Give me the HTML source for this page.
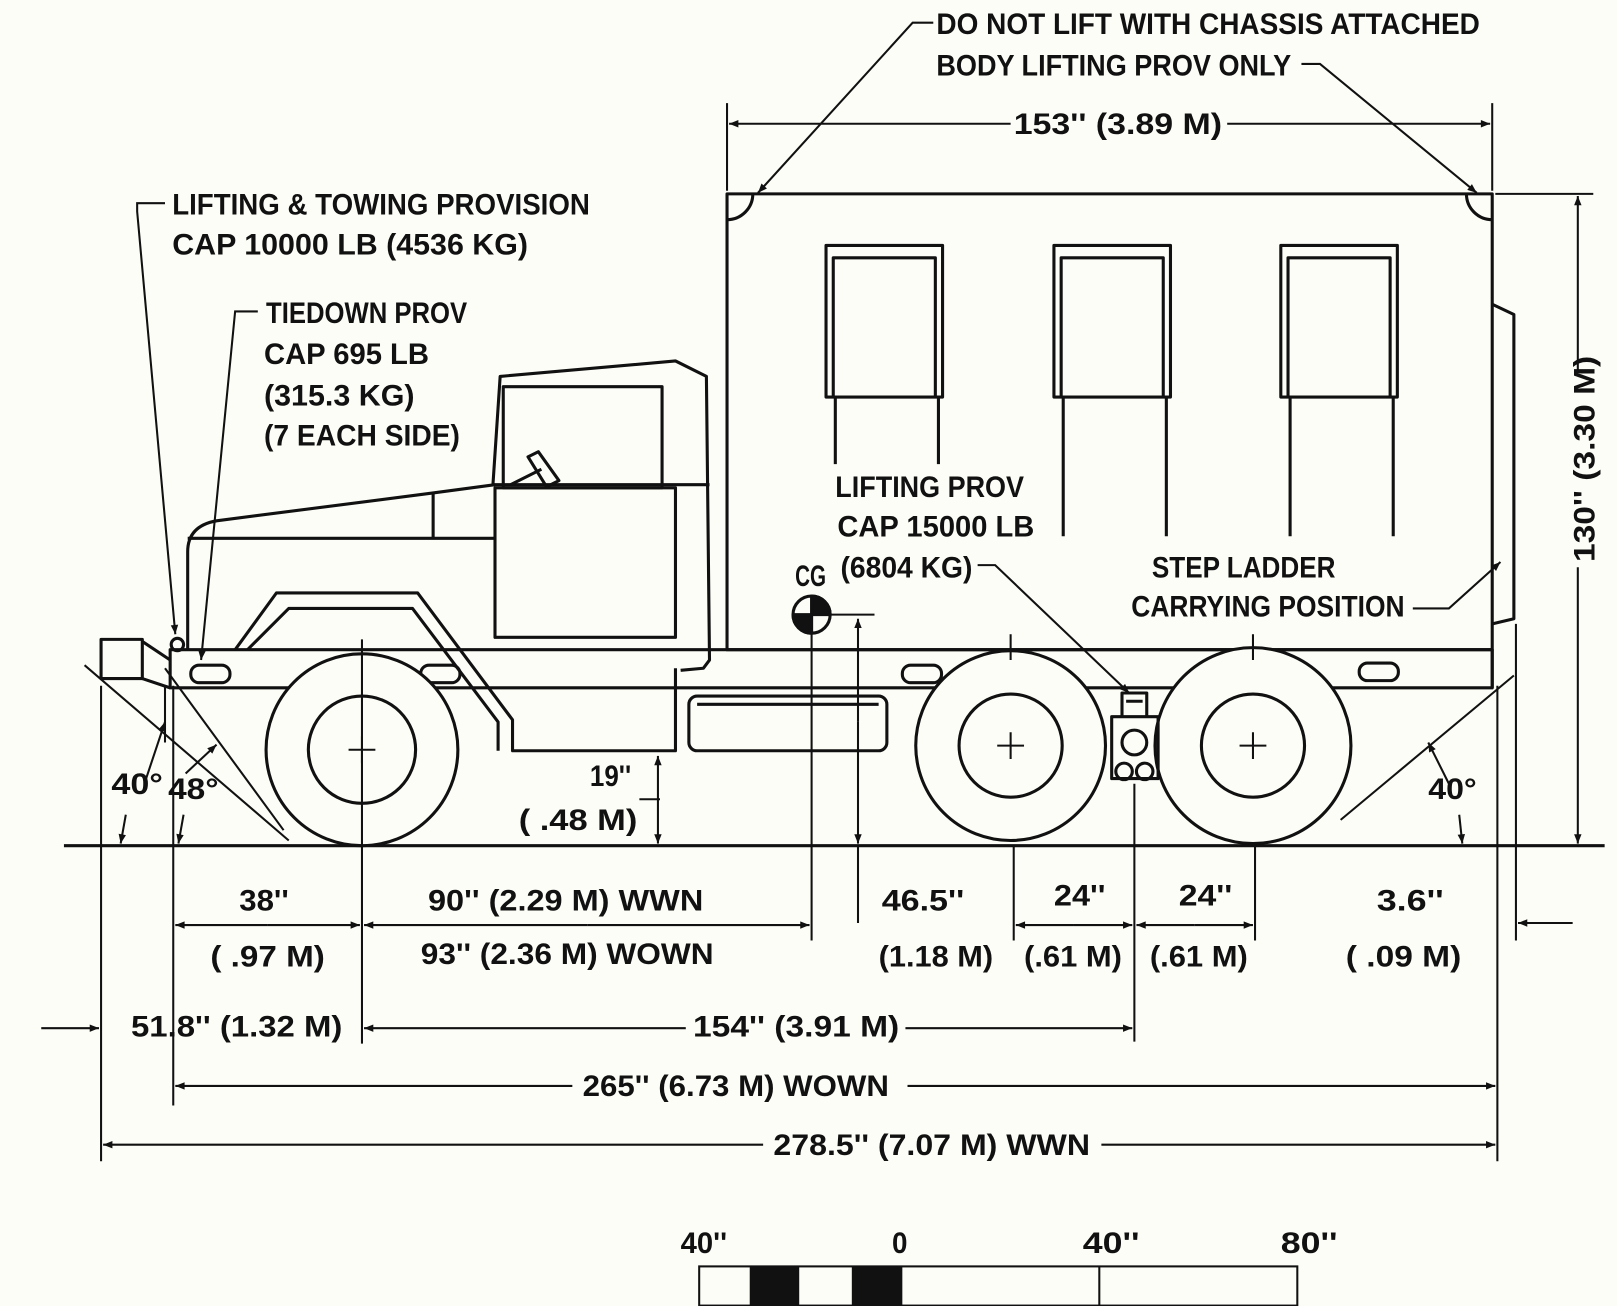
<!DOCTYPE html>
<html><head><meta charset="utf-8"><style>
html,body{margin:0;padding:0;background:#fdfdf8;}
svg{display:block;}
text{font-family:"Liberation Sans",sans-serif;font-weight:bold;font-size:29px;fill:#111;}
</style></head><body>
<svg width="1617" height="1306" viewBox="0 0 1568 1266.4" preserveAspectRatio="none" xmlns="http://www.w3.org/2000/svg">
<defs>
<marker id="a" viewBox="0 0 10 10" refX="10" refY="5" markerWidth="12" markerHeight="9" orient="auto-start-reverse" markerUnits="userSpaceOnUse"><path d="M0,1 L10,5 L0,9 z" fill="#111"/></marker>
</defs>
<rect width="1568" height="1267" fill="#fdfdf8"/>
<g stroke="#111" stroke-width="3" fill="none" stroke-linejoin="round">
<!-- ground -->
<line x1="62" y1="820" x2="1556" y2="820"/>
<!-- body -->
<rect x="705" y="188" width="742" height="442"/>
<path d="M705,213 A25,25 0 0 0 730,188"/>
<path d="M1422,188 A25,25 0 0 0 1447,213"/>
<rect x="801" y="238" width="113" height="147"/><path d="M808,385 V250 H907 V385"/>
<path d="M810,385 V450 M910,385 V450"/>
<rect x="1022" y="238" width="113" height="147"/><path d="M1029,385 V250 H1128 V385"/>
<path d="M1031,385 V520 M1131,385 V520"/>
<rect x="1242" y="238" width="113" height="147"/><path d="M1249,385 V250 H1348 V385"/>
<path d="M1251,385 V520 M1351,385 V520"/>
<path d="M1447,295 L1468,305 V600 L1447,605"/>
<!-- frame -->
<rect x="165" y="630" width="1282" height="37"/>
<path d="M1447,630 V667"/>
<!-- bumper -->
<rect x="98" y="620" width="40" height="38"/>
<path d="M138,622 L165,640"/>
<path d="M138,658 L165,667"/>
<circle cx="172" cy="625" r="6"/>
<!-- hood -->
<path d="M182,630 V535 Q182,510 210,505 L420,478 L480,470"/>
<path d="M182,522 H480"/>
<path d="M420,478 V522"/>
<!-- cab -->
<path d="M478,470 L485,365 L655,350 L685,365 L688,640 L682,648 L660,650"/>
<rect x="488" y="375" width="154" height="98"/>
<rect x="480" y="473" width="175" height="145"/>
<path d="M478,470 H688"/>
<path d="M522,438 L512,443 L530,472 L542,466 Z"/>
<path d="M495,470 L525,455"/>
<!-- fender -->
<path d="M228,630 L268,575 L405,575 L497,698 V728 H655 V648"/>
<path d="M240,630 L280,590 L400,590 L483,700 V728"/>
<!-- battery box -->
<rect x="668" y="675" width="192" height="53" rx="8"/>
<path d="M676,683 H852"/>
<!-- slots -->
<rect x="185" y="645" width="38" height="17" rx="8"/>
<rect x="338" y="645" width="38" height="17" rx="8" stroke-dasharray="12 6"/>
<rect x="408" y="645" width="38" height="17" rx="8"/>
<rect x="875" y="645" width="38" height="17" rx="8"/>
<rect x="948" y="643" width="38" height="17" rx="8" stroke-dasharray="12 6"/>
<rect x="1218" y="643" width="38" height="17" rx="8" stroke-dasharray="12 6"/>
<rect x="1318" y="643" width="38" height="17" rx="8"/>
<!-- wheels -->
<circle cx="351" cy="727" r="93" fill="#fdfdf8"/>
<circle cx="351" cy="727" r="52"/>
<circle cx="980" cy="723" r="92" fill="#fdfdf8"/>
<circle cx="980" cy="723" r="50"/>
<circle cx="1215" cy="723" r="95" fill="#fdfdf8"/>
<circle cx="1215" cy="723" r="50"/>
<path d="M338,727 H364 M351,714 V740 M967,723 H993 M980,710 V736 M1202,723 H1228 M1215,710 V736" stroke-width="2"/>
<!-- hitch -->
<rect x="1078" y="695" width="45" height="60"/>
<circle cx="1100" cy="720" r="12"/>
<circle cx="1090" cy="748" r="8"/><circle cx="1110" cy="748" r="8"/>
<path d="M1088,695 V672 H1112 V695 M1092,680 H1108"/>
<!-- CG -->
<circle cx="787" cy="596" r="18"/>
<path d="M787,578 A18,18 0 0 1 805,596 H787 Z M787,596 H769 A18,18 0 0 0 787,614 Z" fill="#111"/>
</g>
<g stroke="#111" stroke-width="2" fill="none">
<!-- center lines -->
<line x1="351" y1="620" x2="351" y2="1012"/>
<line x1="980" y1="615" x2="980" y2="640"/>
<line x1="1215" y1="615" x2="1215" y2="640"/>
<!-- angle lines -->
<line x1="82" y1="645" x2="280" y2="815"/>
<line x1="160" y1="648" x2="275" y2="805"/>
<line x1="1468" y1="655" x2="1300" y2="795"/>
<line x1="160" y1="665" x2="160" y2="720"/>
<path d="M140,760 L160,700" marker-end="url(#a)"/>
<path d="M180,750 L210,722" marker-end="url(#a)"/>
<path d="M1405,760 L1385,720" marker-end="url(#a)"/>
<path d="M122,790 L117,818" marker-end="url(#a)"/>
<path d="M178,790 L173,818" marker-end="url(#a)"/>
<path d="M1415,790 L1418,818" marker-end="url(#a)"/>
<!-- leaders -->
<path d="M905,22 H885 L735,187" marker-end="url(#a)"/>
<path d="M1262,62 H1280 L1432,187" marker-end="url(#a)"/>
<path d="M160,197 H133 V205 L170,615" marker-end="url(#a)"/>
<path d="M250,302 H228 L195,640" marker-end="url(#a)"/>
<path d="M948,548 H965 L1095,672" marker-end="url(#a)"/>
<path d="M1370,590 H1405 L1455,545" marker-end="url(#a)"/>
<!-- 153 -->
<line x1="705" y1="100" x2="705" y2="185"/>
<line x1="1447" y1="100" x2="1447" y2="185"/>
<path d="M980,120 H707" marker-end="url(#a)"/>
<path d="M1190,120 H1445" marker-end="url(#a)"/>
<!-- 130 -->
<line x1="1450" y1="188" x2="1545" y2="188"/>
<line x1="1470" y1="820" x2="1545" y2="820"/>
<path d="M1530,360 V190" marker-end="url(#a)"/>
<path d="M1530,550 V818" marker-end="url(#a)"/>
<!-- 19 -->
<path d="M638,775 V733" marker-end="url(#a)"/>
<path d="M638,775 V818" marker-end="url(#a)"/>
<line x1="620" y1="775" x2="640" y2="775"/>
<!-- CG dims -->
<line x1="787" y1="596" x2="787" y2="912"/>
<line x1="800" y1="596" x2="848" y2="596"/>
<path d="M832,700 V600" marker-end="url(#a)"/>
<path d="M832,700 V818" marker-end="url(#a)"/>
<line x1="832" y1="820" x2="832" y2="895"/>
<!-- extension lines -->
<line x1="98" y1="665" x2="98" y2="1126"/>
<line x1="168" y1="665" x2="168" y2="1072"/>
<line x1="983" y1="820" x2="983" y2="912"/>
<line x1="1100" y1="760" x2="1100" y2="1010"/>
<line x1="1217" y1="820" x2="1217" y2="912"/>
<line x1="1452" y1="665" x2="1452" y2="1126"/>
<line x1="1470" y1="605" x2="1470" y2="912"/>
<!-- row 897 -->
<path d="M259,897 H170" marker-end="url(#a)"/>
<path d="M259,897 H349" marker-end="url(#a)"/>
<path d="M570,897 H353" marker-end="url(#a)"/>
<path d="M570,897 H785" marker-end="url(#a)"/>
<path d="M1041,897 H985" marker-end="url(#a)"/>
<path d="M1041,897 H1098" marker-end="url(#a)"/>
<path d="M1158,897 H1102" marker-end="url(#a)"/>
<path d="M1158,897 H1215" marker-end="url(#a)"/>
<path d="M1525,895 H1472" marker-end="url(#a)"/>
<!-- row 997 -->
<path d="M40,997 H96" marker-end="url(#a)"/>
<path d="M665,997 H353" marker-end="url(#a)"/>
<path d="M878,997 H1098" marker-end="url(#a)"/>
<!-- row 1053 -->
<path d="M555,1053 H170" marker-end="url(#a)"/>
<path d="M880,1053 H1450" marker-end="url(#a)"/>
<!-- row 1110 -->
<path d="M740,1110 H100" marker-end="url(#a)"/>
<path d="M1068,1110 H1450" marker-end="url(#a)"/>
<!-- scale bar -->
<rect x="678" y="1228" width="580" height="38"/>
<line x1="1066" y1="1228" x2="1066" y2="1266"/>
</g>
<rect x="727" y="1228" width="48" height="38" fill="#111"/>
<rect x="826" y="1228" width="49" height="38" fill="#111"/>
<g>
<text x="908" y="33" textLength="527" lengthAdjust="spacingAndGlyphs">DO NOT LIFT WITH CHASSIS ATTACHED</text>
<text x="908" y="73" textLength="344" lengthAdjust="spacingAndGlyphs">BODY LIFTING PROV ONLY</text>
<text x="983" y="130" textLength="202" lengthAdjust="spacingAndGlyphs">153'' (3.89 M)</text>
<text x="167" y="208" textLength="405" lengthAdjust="spacingAndGlyphs">LIFTING &amp; TOWING PROVISION</text>
<text x="167" y="247" textLength="345" lengthAdjust="spacingAndGlyphs">CAP 10000 LB (4536 KG)</text>
<text x="258" y="313" textLength="195" lengthAdjust="spacingAndGlyphs">TIEDOWN PROV</text>
<text x="256" y="353" textLength="160" lengthAdjust="spacingAndGlyphs">CAP 695 LB</text>
<text x="256" y="393" textLength="146" lengthAdjust="spacingAndGlyphs">(315.3 KG)</text>
<text x="256" y="432" textLength="190" lengthAdjust="spacingAndGlyphs">(7 EACH SIDE)</text>
<text x="810" y="482" textLength="183" lengthAdjust="spacingAndGlyphs">LIFTING PROV</text>
<text x="812" y="520" textLength="191" lengthAdjust="spacingAndGlyphs">CAP 15000 LB</text>
<text x="815" y="560" textLength="128" lengthAdjust="spacingAndGlyphs">(6804 KG)</text>
<text x="1117" y="560" textLength="178" lengthAdjust="spacingAndGlyphs">STEP LADDER</text>
<text x="1097" y="598" textLength="265" lengthAdjust="spacingAndGlyphs">CARRYING POSITION</text>
<text x="771" y="568" textLength="30" lengthAdjust="spacingAndGlyphs">CG</text>
<text transform="translate(1546,545) rotate(-90)" textLength="200" lengthAdjust="spacingAndGlyphs">130'' (3.30 M)</text>
<text x="572" y="762" textLength="40" lengthAdjust="spacingAndGlyphs">19''</text>
<text x="503" y="805" textLength="115" lengthAdjust="spacingAndGlyphs">( .48 M)</text>
<text x="108" y="770" textLength="50" lengthAdjust="spacingAndGlyphs">40°</text>
<text x="163" y="775" textLength="49" lengthAdjust="spacingAndGlyphs">48°</text>
<text x="1385" y="775" textLength="47" lengthAdjust="spacingAndGlyphs">40°</text>
<text x="232" y="883" textLength="48" lengthAdjust="spacingAndGlyphs">38''</text>
<text x="204" y="937" textLength="111" lengthAdjust="spacingAndGlyphs">( .97 M)</text>
<text x="415" y="883" textLength="267" lengthAdjust="spacingAndGlyphs">90'' (2.29 M) WWN</text>
<text x="408" y="935" textLength="284" lengthAdjust="spacingAndGlyphs">93'' (2.36 M) WOWN</text>
<text x="855" y="883" textLength="80" lengthAdjust="spacingAndGlyphs">46.5''</text>
<text x="852" y="937" textLength="111" lengthAdjust="spacingAndGlyphs">(1.18 M)</text>
<text x="1022" y="878" textLength="50" lengthAdjust="spacingAndGlyphs">24''</text>
<text x="993" y="937" textLength="95" lengthAdjust="spacingAndGlyphs">(.61 M)</text>
<text x="1143" y="878" textLength="52" lengthAdjust="spacingAndGlyphs">24''</text>
<text x="1115" y="937" textLength="95" lengthAdjust="spacingAndGlyphs">(.61 M)</text>
<text x="1335" y="883" textLength="65" lengthAdjust="spacingAndGlyphs">3.6''</text>
<text x="1305" y="937" textLength="112" lengthAdjust="spacingAndGlyphs">( .09 M)</text>
<text x="127" y="1005" textLength="205" lengthAdjust="spacingAndGlyphs">51.8'' (1.32 M)</text>
<text x="672" y="1005" textLength="200" lengthAdjust="spacingAndGlyphs">154'' (3.91 M)</text>
<text x="565" y="1063" textLength="297" lengthAdjust="spacingAndGlyphs">265'' (6.73 M) WOWN</text>
<text x="750" y="1120" textLength="307" lengthAdjust="spacingAndGlyphs">278.5'' (7.07 M) WWN</text>
<text x="660" y="1215" textLength="45" lengthAdjust="spacingAndGlyphs">40''</text>
<text x="865" y="1215" textLength="15" lengthAdjust="spacingAndGlyphs">0</text>
<text x="1050" y="1215" textLength="55" lengthAdjust="spacingAndGlyphs">40''</text>
<text x="1242" y="1215" textLength="55" lengthAdjust="spacingAndGlyphs">80''</text>
</g>
</svg>
</body></html>
